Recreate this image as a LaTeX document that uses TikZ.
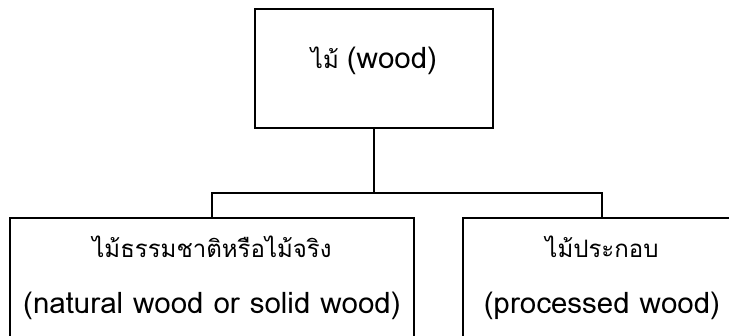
\documentclass[tikz,border=0pt]{standalone}
\usepackage{fontspec}
\setmainfont[Script=Thai]{Loma}
\newcommand\latpart[1]{{\fontsize{29.5}{56}\selectfont #1}}
\begin{document}
\begin{tikzpicture}[x=1pt,y=1pt,
  box/.style={draw=black, line width=2.6pt, rectangle, inner sep=0pt, align=center,
    font=\fontsize{24}{56}\selectfont},
  conn/.style={draw=black, line width=2.6pt}]
\useasboundingbox (0,0) rectangle (729,336);
\node[box, minimum width=238, minimum height=119] (top) at (374,267.5) {};
\node[anchor=center, inner sep=0pt, font=\fontsize{24}{56}\selectfont] (toplabel) at (374,275) {ไม้ \latpart{(wood)}};
\node[box, minimum width=404, minimum height=119] (left) at (212,58.5) {ไม้ธรรมชาติหรือไม้จริง\\\latpart{(natural wood or solid wood)}};
\node[box, minimum width=278, minimum height=119] (right) at (602,58.5) {ไม้ประกอบ\\\latpart{(processed wood)}};
\coordinate (j) at (374,143);
\draw[conn] (top.south) -- (j);
\draw[conn] (left.north) |- (j) -| (right.north);
\end{tikzpicture}
\end{document}
